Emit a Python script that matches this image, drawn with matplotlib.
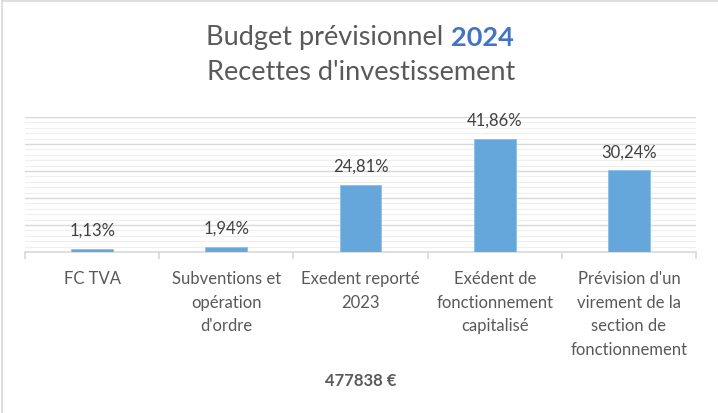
import matplotlib
matplotlib.use("Agg")
import matplotlib.pyplot as plt
from matplotlib.lines import Line2D
from matplotlib.ticker import MultipleLocator, FixedLocator

categories = ["FC TVA", "Subventions et\nopération\nd'ordre", "Exedent reporté\n2023",
              "Exédent de\nfonctionnement\ncapitalisé",
              "Prévision d'un\nvirement de la\nsection de\nfonctionnement"]
values = [1.13, 1.94, 24.81, 41.86, 30.24]
labels = ["1,13%", "1,94%", "24,81%", "41,86%", "30,24%"]
title_part1 = "Budget prévisionnel "
title_year = "2024"
title_line2 = "Recettes d'investissement"
footer = "477838 €"

FONT = "Lato"
plt.rcParams["font.family"] = [FONT, "DejaVu Sans"]

W, H = 718, 414
fig = plt.figure(figsize=(W / 100, H / 100), dpi=100)
fig.patch.set_facecolor("white")

ax = fig.add_axes([25 / W, (H - 253) / H, 671 / W, 135 / H])
x = list(range(len(values)))
ax.bar(x, values, width=0.31, color="#65A6DB", edgecolor="#8CC0E8", linewidth=0.6, zorder=3)
ax.set_xlim(-0.5, len(values) - 0.5)
ax.set_ylim(0, 50)

ax.yaxis.set_major_locator(MultipleLocator(10))
ax.yaxis.set_minor_locator(MultipleLocator(2))
ax.grid(axis="y", which="major", color="#d9d9d9", linewidth=1.0, zorder=0)
ax.grid(axis="y", which="minor", color="#efefef", linewidth=0.8, zorder=0)
ax.tick_params(axis="y", which="both", left=False, labelleft=False)

for s in ["top", "right", "left"]:
    ax.spines[s].set_visible(False)
ax.spines["bottom"].set_color("#d9d9d9")
ax.spines["bottom"].set_linewidth(1.2)

ax.set_xticks(x)
ax.set_xticklabels(categories, fontsize=12, color="#595959", linespacing=1.58)
ax.tick_params(axis="x", which="major", length=0, pad=13)
ax.xaxis.set_minor_locator(FixedLocator([i - 0.5 for i in range(len(values) + 1)]))
ax.tick_params(axis="x", which="minor", length=5, color="#d9d9d9", width=1.2)

for xi, v, lab in zip(x, values, labels):
    ax.annotate(lab, (xi, v), xytext=(0, 8), textcoords="offset points",
                ha="center", va="bottom", fontsize=12, color="#404040")

# Title with coloured year
renderer = fig.canvas.get_renderer()
ty1 = 1 - 38 / H
t1 = fig.text(0, ty1, title_part1, fontsize=19.5, color="#595959", ha="left", va="center")
t2 = fig.text(0, ty1, title_year, fontsize=19.5, color="#4472C4", fontweight="bold", ha="left", va="center")
w1 = t1.get_window_extent(renderer).width
w2 = t2.get_window_extent(renderer).width
start = (W - (w1 + w2)) / 2 + 1
t1.set_x(start / W)
t2.set_x((start + w1) / W)
fig.text(361 / W, 1 - 73 / H, title_line2, fontsize=19.5, color="#595959", ha="center", va="center")

fig.text(361 / W, 1 - 381 / H, footer, fontsize=12, color="#595959", fontweight="bold",
         ha="center", va="center")

# chart border (top and left visible)
fig.add_artist(Line2D([1.5 / W, 1.5 / W], [0, 1 - 1.5 / H], transform=fig.transFigure,
                      color="#d9d9d9", linewidth=1.2))
fig.add_artist(Line2D([1.5 / W, 1], [1 - 2 / H, 1 - 2 / H], transform=fig.transFigure,
                      color="#d9d9d9", linewidth=1.2))

fig.savefig("out.png", dpi=100, facecolor="white")
